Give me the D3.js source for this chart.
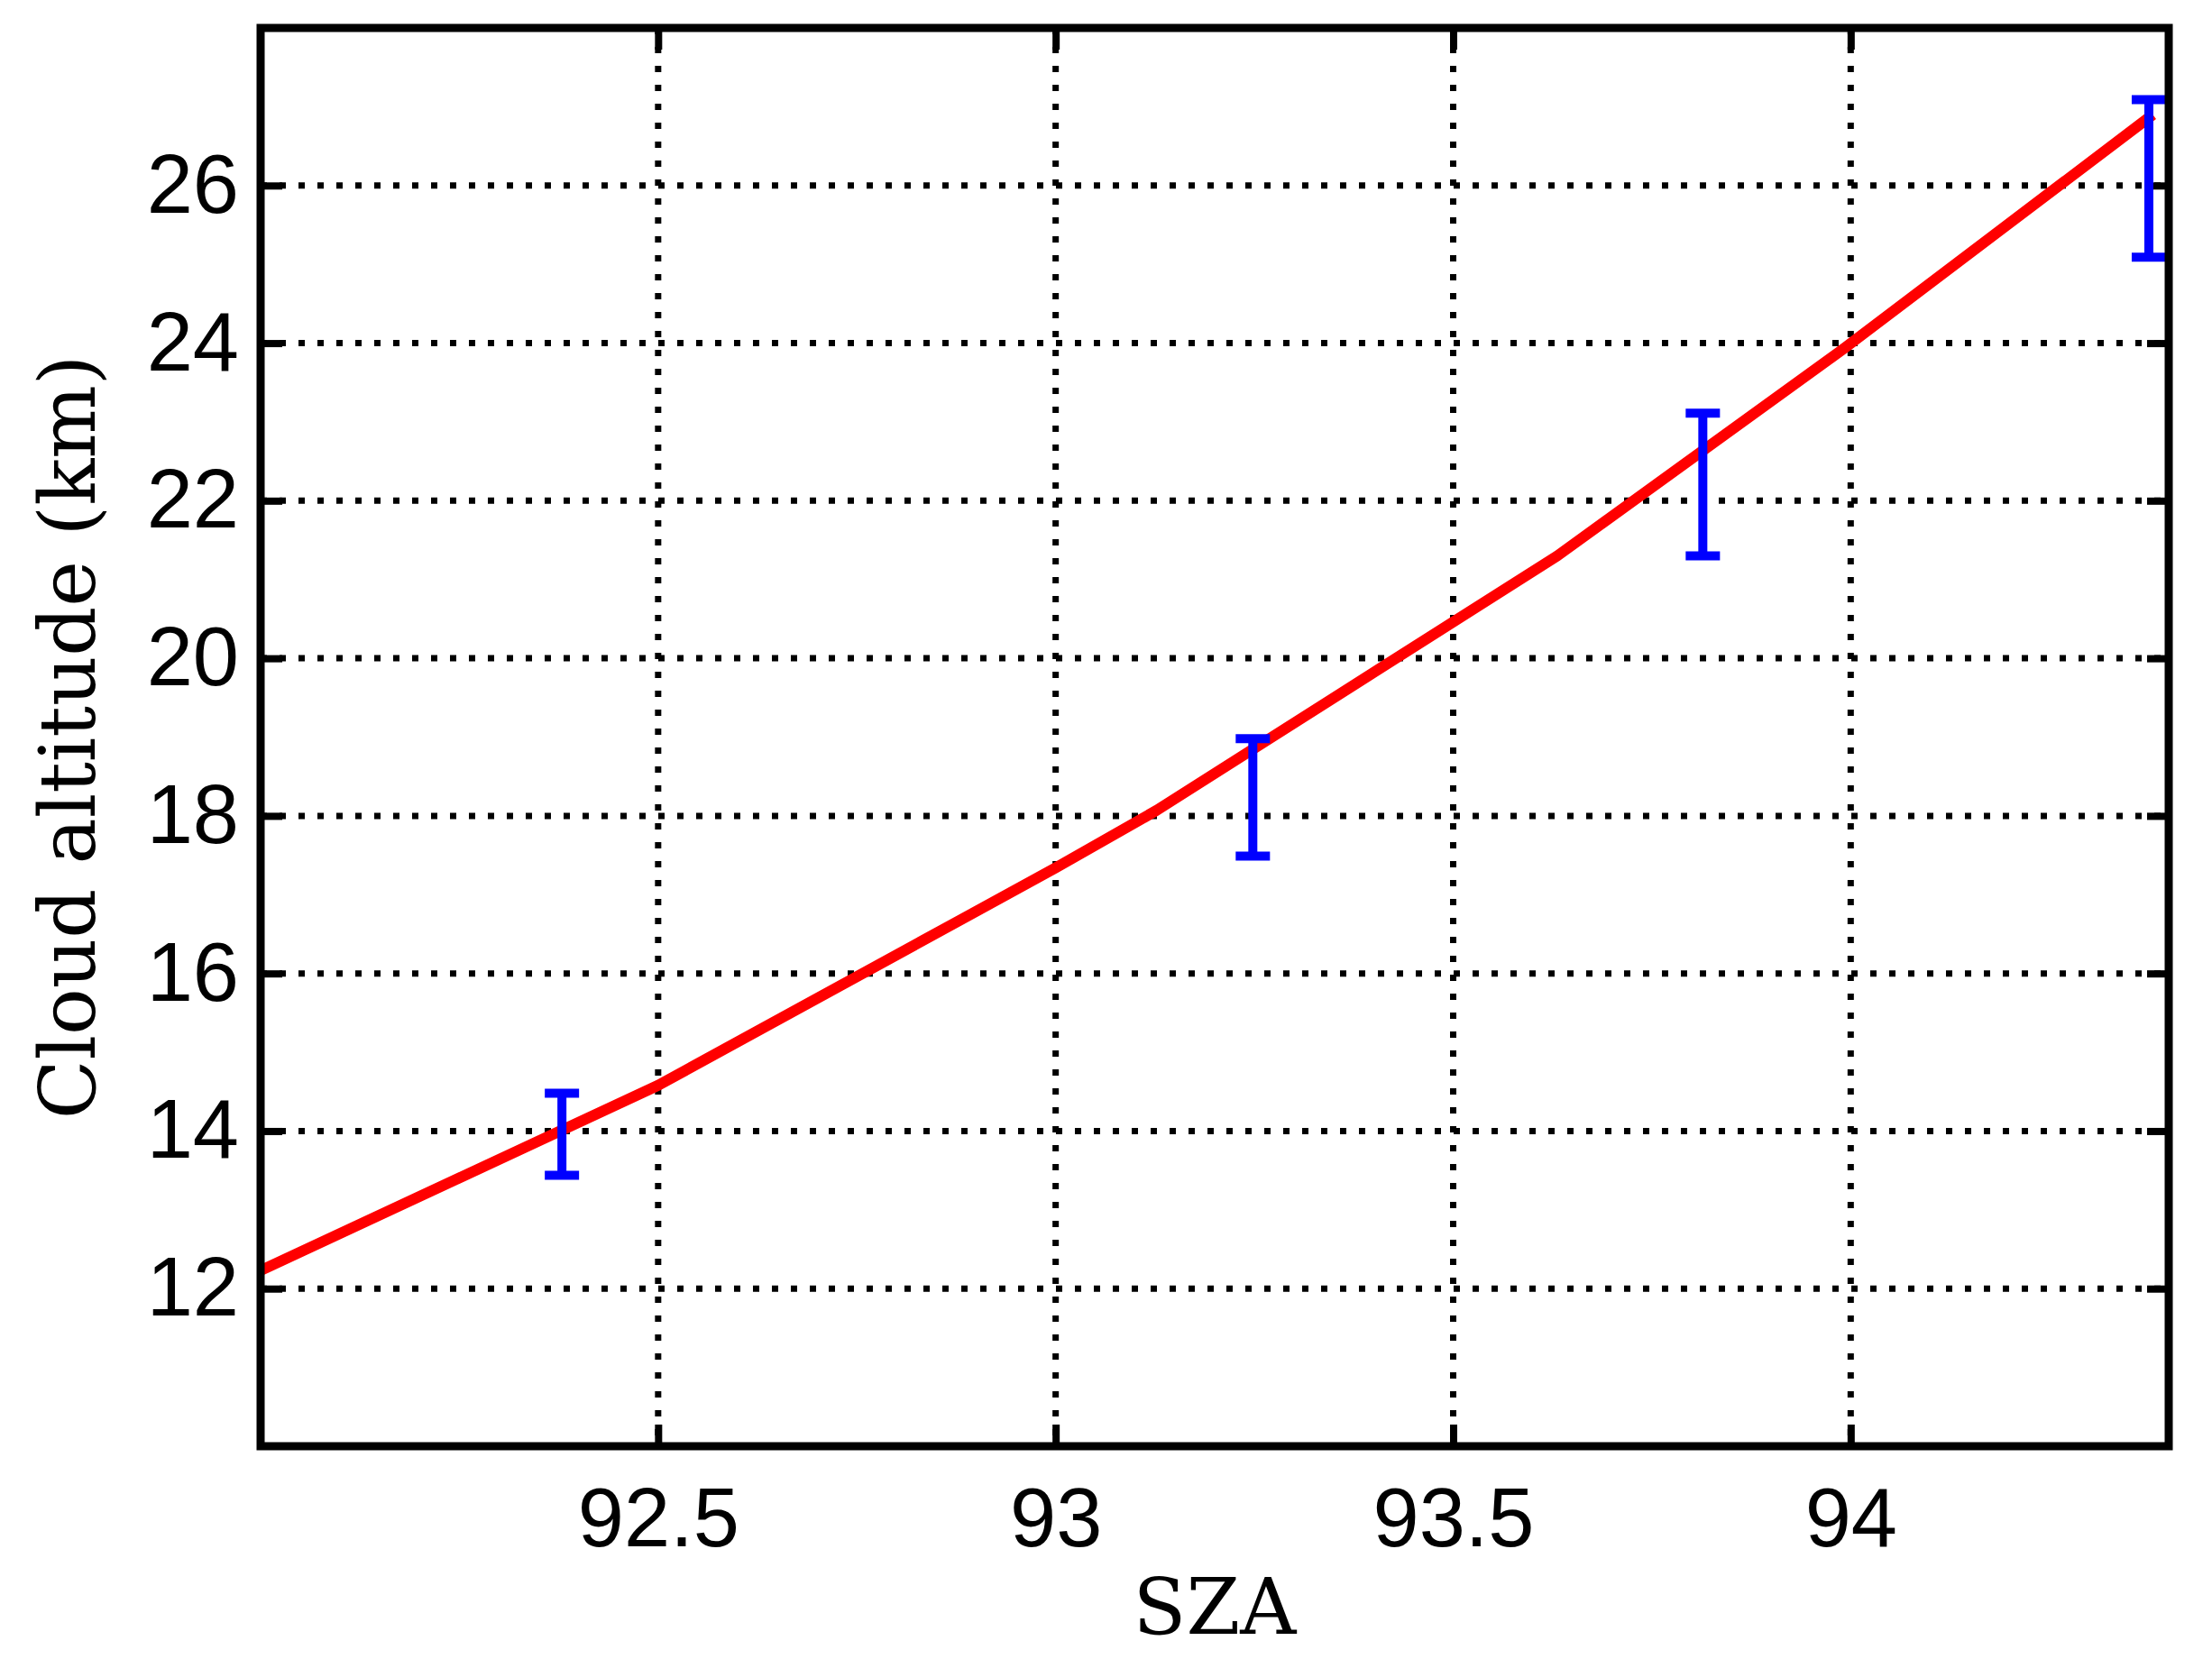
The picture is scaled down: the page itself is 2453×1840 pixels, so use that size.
<!DOCTYPE html>
<html><head><meta charset="utf-8">
<script src="https://cdn.jsdelivr.net/npm/d3@7"></script>
<style>body{margin:0;background:#fff}</style></head>
<body><svg id="c" width="2453" height="1840"></svg>
<script>
const lineX = [92.0, 92.5, 93.0, 93.127, 93.631, 93.994, 94.38];
const lineY = [12.23, 14.58, 17.34, 18.07, 21.3, 23.95, 26.9];
const errX = [92.379, 93.248, 93.814, 94.375];
const errLo = [13.44, 17.49, 21.3, 25.09];
const errHi = [14.48, 18.98, 23.11, 27.09];
const xTicks = [92.5, 93, 93.5, 94];
const yTicks = [12, 14, 16, 18, 20, 22, 24, 26];

const L=289,R=2405,T=31,B=1604;
const svg=d3.select("#c");
const x=d3.scaleLinear().domain([92.0,94.4]).range([L,R]);
const y=d3.scaleLinear().domain([10,28]).range([B,T]);
const g=svg.append("g");
g.selectAll(".gx").data(xTicks).join("line").attr("x1",d=>x(d)).attr("x2",d=>x(d)).attr("y1",T).attr("y2",B)
 .attr("stroke","#000").attr("stroke-width",7).attr("stroke-dasharray","7,14");
g.selectAll(".gy").data(yTicks).join("line").attr("y1",d=>y(d)).attr("y2",d=>y(d)).attr("x1",L).attr("x2",R)
 .attr("stroke","#000").attr("stroke-width",7).attr("stroke-dasharray","7,14");
const ax=d3.axisBottom(x).tickValues(xTicks).tickFormat(d3.format("")).tickSize(-24).tickPadding(46);
const axg=svg.append("g").attr("transform",`translate(0,${B})`).call(ax);
const ay=d3.axisLeft(y).tickValues(yTicks).tickFormat(d3.format("")).tickSize(-24).tickPadding(24);
const ayg=svg.append("g").attr("transform",`translate(${L},0)`).call(ay);
const axt=d3.axisTop(x).tickValues(xTicks).tickFormat("").tickSize(-24);
const axtg=svg.append("g").attr("transform",`translate(0,${T})`).call(axt);
const ayr=d3.axisRight(y).tickValues(yTicks).tickFormat("").tickSize(-24);
const ayrg=svg.append("g").attr("transform",`translate(${R},0)`).call(ayr);
[axg,ayg,axtg,ayrg].forEach(a=>{a.select(".domain").remove();a.selectAll("line").attr("stroke-width",8);
 a.selectAll("text").attr("font-family","Liberation Sans, Arial").attr("font-size",92).attr("fill","#000");});
const pts=lineX.map((v,i)=>[x(v),y(lineY[i])]);
svg.append("path").attr("d",d3.line()(pts)).attr("fill","none").attr("stroke","#ff0000").attr("stroke-width",12).attr("stroke-linejoin","round");
const eb=svg.append("g").attr("stroke","#0000ff").attr("stroke-width",10);
errX.forEach((v,i)=>{
 eb.append("line").attr("x1",x(v)).attr("x2",x(v)).attr("y1",y(errLo[i])).attr("y2",y(errHi[i]));
 [errLo[i],errHi[i]].forEach(e=>eb.append("line").attr("x1",x(v)-19).attr("x2",x(v)+19).attr("y1",y(e)).attr("y2",y(e)));
});
svg.append("rect").attr("x",L).attr("y",T).attr("width",R-L).attr("height",B-T).attr("fill","none").attr("stroke","#000").attr("stroke-width",9);
svg.append("text").attr("x",(L+R)/2).attr("y",1812).attr("text-anchor","middle").attr("font-family","DejaVu Serif, Liberation Serif").attr("font-size",86).text("SZA");
svg.append("text").attr("transform",`translate(105,${(T+B)/2}) rotate(-90)`).attr("text-anchor","middle").attr("font-family","DejaVu Serif, Liberation Serif").attr("font-size",86).text("Cloud altitude (km)");
</script></body></html>
